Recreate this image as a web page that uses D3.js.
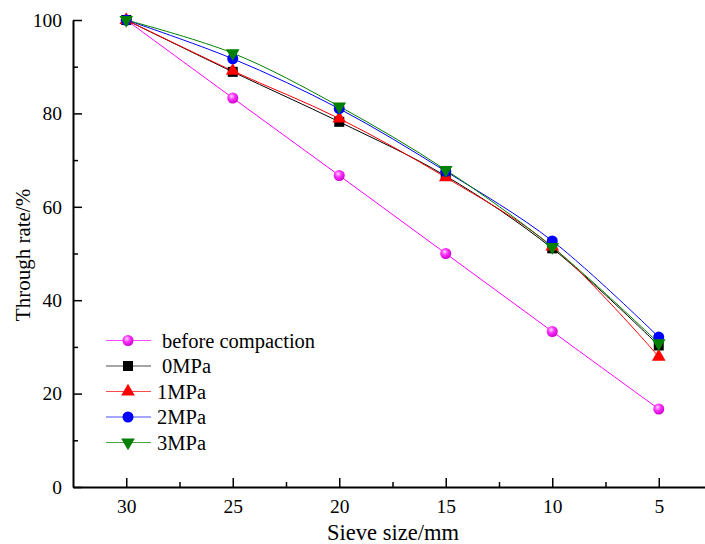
<!DOCTYPE html>
<html>
<head>
<meta charset="utf-8">
<script src="https://cdn.jsdelivr.net/npm/d3@7"></script>
<style>
  body { margin: 0; background: #fff; }
  svg text { font-family: "Times New Roman", "Liberation Serif", "DejaVu Serif", serif !important; }
</style>
</head>
<body>
<div id="chart"></div>
<script>
// Sieve sizes (mm) on the x axis, reversed
const sieveSizes = [30, 25, 20, 15, 10, 5];

// Through rate (%) for each condition
const beforeCompaction = [100, 83.3, 66.7, 50, 33.3, 16.7];
const mpa0 = [100, 88.9, 78.2, 66.6, 51.1, 30.3];
const mpa1 = [100, 89.1, 78.9, 66.3, 51.5, 27.9];
const mpa2 = [100, 91.7, 81.0, 67.6, 52.7, 32.1];
const mpa3 = [100, 92.9, 81.5, 67.9, 51.4, 30.8];

const seriesNames = ["before compaction", "0MPa", "1MPa", "2MPa", "3MPa"];

const xTicks = [30, 25, 20, 15, 10, 5];
const xMinorTicks = [27.5, 22.5, 17.5, 12.5, 7.5, 2.5];
const yTicks = [0, 20, 40, 60, 80, 100];
const yMinorTicks = [10, 30, 50, 70, 90];

const width = 705;
const height = 544;

const svg = d3.select("#chart")
    .append("svg")
    .attr("width", width)
    .attr("height", height);

// gradient for the shaded pink balls
const defs = svg.append("defs");
const grad = defs.append("radialGradient")
    .attr("id", "ball")
    .attr("cx", "0.4").attr("cy", "0.35").attr("r", "0.65");
grad.append("stop").attr("offset", "0%").attr("stop-color", "#ffd9ff");
grad.append("stop").attr("offset", "45%").attr("stop-color", "#ff33ff");
grad.append("stop").attr("offset", "100%").attr("stop-color", "#cc00cc");

const x = d3.scaleLinear().domain([32.5, 2.5]).range([73, 712]);
const y = d3.scaleLinear().domain([0, 100]).range([487, 20]);

const series = [
    { name: seriesNames[0], values: beforeCompaction, color: "#ff00ff", shape: "ball" },
    { name: seriesNames[1], values: mpa0, color: "#000000", shape: "square" },
    { name: seriesNames[2], values: mpa1, color: "#ff0000", shape: "up" },
    { name: seriesNames[3], values: mpa2, color: "#0000ff", shape: "circle" },
    { name: seriesNames[4], values: mpa3, color: "#008000", shape: "down" }
];

function marker(sel, s) {
    if (s.shape === "ball") {
        sel.append("circle").attr("r", 5.5).attr("fill", "url(#ball)");
    } else if (s.shape === "square") {
        sel.append("path").attr("d", d3.symbol(d3.symbolSquare, 100)()).attr("fill", s.color);
    } else if (s.shape === "circle") {
        sel.append("circle").attr("r", 5.5).attr("fill", s.color);
    } else if (s.shape === "up") {
        sel.append("path").attr("d", d3.symbol(d3.symbolTriangle, 80)()).attr("fill", s.color);
    } else {
        sel.append("path").attr("d", d3.symbol(d3.symbolTriangle, 80)())
            .attr("transform", "rotate(180)").attr("fill", s.color);
    }
}

const line = d3.line()
    .x((d, i) => x(sieveSizes[i]))
    .y(d => y(d))
    .curve(d3.curveCatmullRom.alpha(0.5));

// lines and markers
series.forEach(s => {
    svg.append("path")
        .attr("d", line(s.values))
        .attr("fill", "none")
        .attr("stroke", s.color)
        .attr("stroke-width", 1);
});
series.forEach(s => {
    s.values.forEach((v, i) => {
        const g = svg.append("g").attr("transform", `translate(${x(sieveSizes[i])},${y(v)})`);
        marker(g, s);
    });
});

// axes (ticks pointing inward)
svg.append("g")
    .attr("transform", `translate(0,${y(0)})`)
    .call(d3.axisBottom(x).tickValues(xTicks).tickSize(-9).tickSizeOuter(0).tickPadding(12))
    .attr("font-family", null);
svg.append("g")
    .attr("transform", `translate(0,${y(0)})`)
    .call(d3.axisBottom(x).tickValues(xMinorTicks).tickSize(-5).tickSizeOuter(0).tickFormat(""))
    .select(".domain").remove();

svg.append("g")
    .attr("transform", `translate(${x(32.5)},0)`)
    .call(d3.axisLeft(y).tickValues(yTicks).tickSize(-9).tickSizeOuter(0).tickPadding(11))
    .attr("font-family", null);
svg.append("g")
    .attr("transform", `translate(${x(32.5)},0)`)
    .call(d3.axisLeft(y).tickValues(yMinorTicks).tickSize(-5).tickSizeOuter(0).tickFormat(""))
    .select(".domain").remove();

svg.selectAll(".domain").attr("stroke-width", 2);
svg.selectAll(".tick line").attr("stroke-width", 1.5);
svg.selectAll(".tick text")
    .style("font-size", "19.5px")
    .attr("fill", "#000");

// axis titles
svg.append("text")
    .attr("x", 393).attr("y", 540)
    .attr("text-anchor", "middle")
    .style("font-size", "22.5px")
    .text("Sieve size/mm");

svg.append("text")
    .attr("transform", "translate(30,255) rotate(-90)")
    .attr("text-anchor", "middle")
    .style("font-size", "21px")
    .text("Through rate/%");

// legend
const legend = svg.append("g");
series.forEach((s, i) => {
    const ly = 340.5 + i * 25.5;
    const g = legend.append("g").attr("transform", `translate(0,${ly})`);
    g.append("line")
        .attr("x1", 106).attr("x2", 151)
        .attr("stroke", s.color).attr("stroke-width", 1).attr("opacity", 0.7);
    const m = g.append("g").attr("transform", "translate(128,0)");
    marker(m, s);
    g.append("text")
        .attr("x", i < 2 ? 162 : 157)
        .attr("y", 7)
        .style("font-size", "20.5px")
        .text(s.name);
});
</script>
</body>
</html>
